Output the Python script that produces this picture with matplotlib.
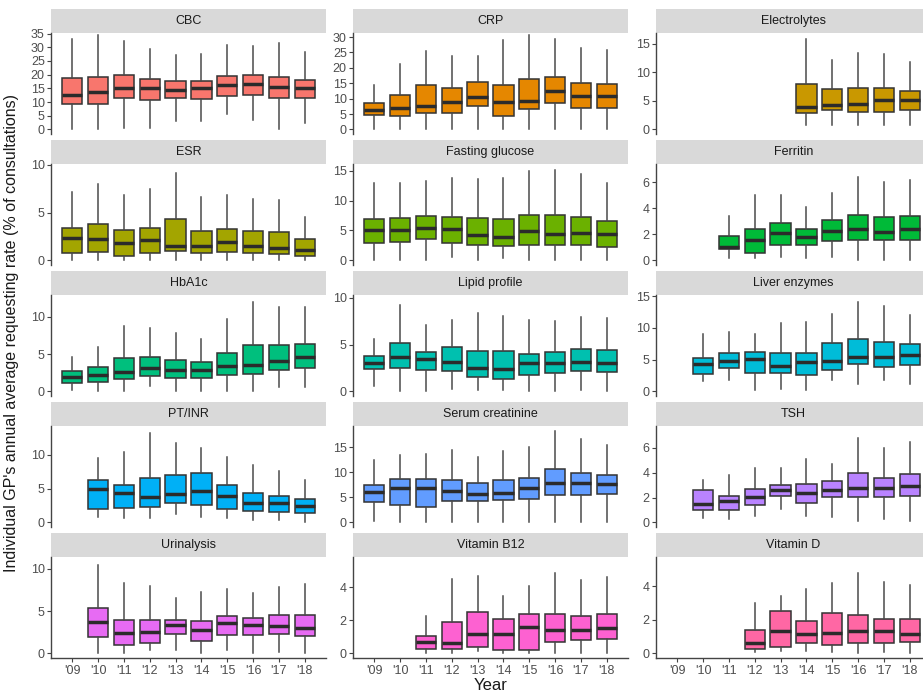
import matplotlib
matplotlib.use("Agg")
import matplotlib.pyplot as plt
from matplotlib.patches import Rectangle
from matplotlib.ticker import MultipleLocator

plt.rcParams['font.family'] = ['Liberation Sans Narrow', 'Liberation Sans', 'DejaVu Sans']

years = ["'09", "'10", "'11", "'12", "'13", "'14", "'15", "'16", "'17", "'18"]
tests = ["CBC", "CRP", "Electrolytes", "ESR", "Fasting glucose", "Ferritin",
         "HbA1c", "Lipid profile", "Liver enzymes", "PT/INR", "Serum creatinine", "TSH",
         "Urinalysis", "Vitamin B12", "Vitamin D"]
# index of the first year with data for each test
first_year = [0, 0, 5, 0, 0, 2, 0, 0, 1, 1, 0, 1, 1, 2, 3]
# top of each y scale (hidden outliers still stretch the scale)
y_top = [35.2, 31.3, 16.9, 10.1, 16.1, 7.4, 12.9, 10.3, 15.2, 14.3, 19.2, 7.75, 11.4, 5.85, 5.75]
# ggplot default hue palette for 15 groups
colors = ["#F8766D", "#E58700", "#C99800", "#A3A500", "#6BB100", "#00BA38", "#00BF7D",
          "#00C0AF", "#00BCD8", "#00B0F6", "#619CFF", "#B983FF", "#E76BF3", "#FD61D1", "#FF67A4"]
tick_step = [5, 5, 5, 5, 5, 2, 5, 5, 5, 5, 5, 2, 5, 2, 2]

# per year: lower whisker, q1, median, q3, upper whisker
cbc = [[0.2, 9.1, 12.4, 18.7, 33.0], [0.0, 9.1, 13.7, 19.2, 34.4], [0.5, 11.4, 15.0, 19.7, 32.1],
       [0.5, 10.8, 15.0, 18.4, 29.3], [3.2, 11.4, 14.4, 17.7, 27.0], [2.9, 11.1, 15.0, 17.7, 27.5],
       [5.5, 12.3, 16.3, 19.6, 30.9], [3.5, 12.6, 16.5, 19.8, 30.4], [0.0, 11.4, 15.4, 19.3, 31.5],
       [2.4, 11.3, 15.0, 18.1, 28.2]]
crp = [[0.0, 4.7, 6.4, 8.7, 14.5], [0.0, 4.3, 7.1, 11.1, 21.3], [0.0, 5.4, 7.7, 14.5, 25.5],
       [0.0, 5.4, 8.9, 13.6, 23.9], [0.0, 7.5, 10.5, 15.3, 23.9], [0.0, 4.5, 8.9, 14.5, 29.0],
       [0.0, 6.5, 9.2, 16.3, 30.5], [0.0, 8.6, 12.5, 17.0, 29.4], [0.0, 7.1, 10.7, 15.0, 26.5],
       [0.0, 7.1, 10.7, 14.8, 25.7]]
electrolytes = [[0.8, 2.8, 4.0, 7.9, 15.8], [0.8, 3.4, 4.3, 7.0, 12.1], [0.8, 3.1, 4.4, 7.2, 13.4],
                [0.8, 3.1, 5.1, 7.2, 13.3], [0.7, 3.4, 5.1, 6.8, 11.9]]
esr = [[0.0, 0.75, 2.4, 3.35, 7.2], [0.0, 0.85, 2.2, 3.8, 8.0], [0.0, 0.5, 1.8, 3.15, 6.9],
       [0.0, 0.75, 2.1, 3.4, 7.5], [0.0, 1.0, 1.55, 4.35, 9.2], [0.0, 0.8, 1.55, 3.1, 6.6],
       [0.0, 0.85, 1.9, 3.25, 6.9], [0.0, 0.8, 1.55, 3.05, 6.4], [0.0, 0.65, 1.35, 3.0, 6.3],
       [0.0, 0.5, 1.1, 2.2, 4.55]]
fasting_glucose = [[0.1, 2.95, 5.0, 6.9, 12.9], [0.1, 3.0, 5.15, 7.0, 13.0], [0.1, 3.5, 5.4, 7.4, 13.3],
                   [0.5, 2.85, 5.25, 7.2, 13.7], [0.1, 2.6, 4.3, 7.0, 13.6], [0.4, 2.4, 3.9, 6.9, 13.8],
                   [0.1, 2.6, 4.85, 7.5, 14.9], [0.1, 2.6, 4.35, 7.6, 15.1], [0.1, 2.5, 4.5, 7.2, 14.35],
                   [0.1, 2.2, 4.4, 6.6, 12.95]]
ferritin = [[0.15, 0.9, 1.05, 1.9, 3.4], [0.2, 0.6, 1.6, 2.4, 5.0], [0.25, 1.2, 2.1, 2.9, 5.0],
            [0.2, 1.2, 1.8, 2.4, 4.1], [0.3, 1.5, 2.25, 3.1, 5.2], [0.0, 1.55, 2.4, 3.5, 6.4],
            [0.0, 1.55, 2.2, 3.3, 6.0], [0.0, 1.55, 2.4, 3.4, 6.15]]
hba1c = [[0.25, 1.1, 1.95, 2.7, 4.65], [0.1, 1.3, 2.15, 3.2, 5.9], [0.1, 1.6, 2.6, 4.5, 8.75],
         [0.75, 2.0, 3.1, 4.6, 8.5], [0.0, 1.75, 2.9, 4.2, 7.8], [0.0, 1.8, 2.85, 3.9, 7.0],
         [0.0, 2.2, 3.45, 5.2, 9.7], [0.0, 2.3, 3.6, 6.15, 11.9], [0.55, 2.8, 4.1, 6.15, 11.3],
         [0.55, 3.1, 4.55, 6.35, 11.3]]
lipid_profile = [[0.55, 2.4, 3.05, 3.75, 5.65], [0.0, 2.45, 3.7, 5.2, 9.25], [0.0, 2.3, 3.45, 4.25, 7.1],
                 [0.25, 2.15, 3.15, 4.75, 7.65], [0.15, 1.55, 2.5, 4.3, 8.4], [0.15, 1.3, 2.4, 4.3, 8.1],
                 [0.0, 1.7, 3.0, 4.05, 7.65], [0.0, 2.0, 3.0, 4.2, 7.5], [0.2, 2.2, 3.15, 4.5, 7.9],
                 [0.0, 2.1, 3.05, 4.4, 7.8]]
liver_enzymes = [[1.7, 2.75, 4.35, 5.3, 9.0], [1.75, 3.75, 4.85, 6.1, 9.3], [0.2, 2.85, 5.1, 6.2, 9.0],
                 [0.35, 2.9, 4.0, 6.1, 10.8], [0.2, 2.6, 4.7, 6.0, 10.9], [1.85, 3.35, 4.85, 7.6, 12.2],
                 [1.2, 4.25, 5.5, 8.2, 14.15], [1.85, 3.85, 5.5, 7.8, 13.5], [1.1, 4.1, 5.7, 7.4, 12.1]]
pt_inr = [[0.8, 2.0, 4.95, 6.3, 9.5], [0.6, 2.15, 4.3, 5.5, 10.4], [0.6, 2.25, 3.7, 6.6, 13.3],
          [1.3, 2.85, 4.25, 7.0, 11.8], [0.8, 2.65, 4.7, 7.4, 11.05], [0.7, 2.0, 3.9, 5.5, 9.75],
          [0.4, 1.75, 2.85, 4.4, 8.5], [0.4, 1.5, 2.85, 3.95, 7.6], [0.1, 1.35, 2.4, 3.4, 6.35]]
serum_creatinine = [[0.3, 4.1, 6.15, 7.4, 12.35], [0.0, 3.55, 6.9, 8.65, 13.5], [0.0, 3.1, 6.9, 8.55, 13.7],
                    [0.0, 4.2, 6.25, 8.4, 14.5], [0.0, 4.2, 5.6, 7.75, 13.0], [0.0, 4.4, 5.95, 8.35, 14.15],
                    [0.0, 4.6, 6.9, 8.85, 15.1], [0.0, 5.4, 7.9, 10.6, 18.2], [0.0, 5.4, 7.9, 9.8, 16.55],
                    [0.0, 5.6, 7.7, 9.5, 15.4]]
tsh = [[0.35, 1.0, 1.5, 2.6, 3.4], [0.3, 1.0, 1.7, 2.15, 3.8], [0.55, 1.4, 2.05, 2.7, 4.35],
       [1.1, 2.1, 2.6, 3.0, 4.35], [0.5, 1.6, 2.35, 3.1, 5.1], [0.45, 2.05, 2.6, 3.3, 4.7],
       [0.1, 2.05, 2.8, 3.95, 6.75], [0.25, 2.05, 2.8, 3.6, 5.95], [0.1, 2.15, 2.9, 3.9, 6.45]]
urinalysis = [[0.0, 1.95, 3.75, 5.4, 10.4], [0.0, 1.0, 2.4, 4.0, 8.35], [0.4, 1.25, 2.55, 3.95, 7.95],
              [0.4, 2.3, 3.4, 4.0, 6.5], [0.0, 1.5, 2.8, 3.85, 7.3], [0.4, 2.2, 3.65, 4.4, 7.65],
              [0.0, 2.15, 3.4, 4.2, 7.2], [0.2, 2.25, 3.3, 4.55, 7.85], [0.0, 2.0, 3.05, 4.5, 8.15]]
vitamin_b12 = [[0.04, 0.29, 0.72, 1.07, 2.28], [0.04, 0.29, 0.66, 1.91, 4.49], [0.14, 0.39, 1.17, 2.54, 4.68],
               [0.0, 0.2, 1.15, 2.09, 3.51], [0.0, 0.23, 1.6, 2.4, 4.06], [0.0, 0.68, 1.4, 2.38, 4.88],
               [0.0, 0.84, 1.42, 2.3, 4.45], [0.0, 0.88, 1.52, 2.38, 4.62]]
vitamin_d = [[0.06, 0.25, 0.62, 1.37, 3.0], [0.15, 0.38, 1.33, 2.54, 3.4], [0.15, 0.6, 1.15, 1.94, 3.85],
             [0.06, 0.52, 1.21, 2.42, 4.17], [0.0, 0.63, 1.31, 2.27, 4.77], [0.1, 0.62, 1.31, 2.08, 4.25],
             [0.0, 0.67, 1.17, 2.04, 4.06]]

all_data = [cbc, crp, electrolytes, esr, fasting_glucose, ferritin, hba1c, lipid_profile,
            liver_enzymes, pt_inr, serum_creatinine, tsh, urinalysis, vitamin_b12, vitamin_d]

W, H = 923, 693
fig = plt.figure(figsize=(W / 100, H / 100), dpi=100)

col_left = [51, 353, 656]
panel_w = 275
panel_h = 101
strip_h = 24
row_pitch = 131
first_top = 33

line_col = "#444444"
text_col = "#4D4D4D"

for i, name in enumerate(tests):
    r, c = divmod(i, 3)
    top = first_top + r * row_pitch
    ax = fig.add_axes([col_left[c] / W, 1 - (top + panel_h) / H, panel_w / W, panel_h / H])

    stats = []
    for row in all_data[i]:
        stats.append(dict(whislo=row[0], q1=row[1], med=row[2], q3=row[3], whishi=row[4]))
    pos = list(range(first_year[i], first_year[i] + len(stats)))

    ax.bxp(stats, positions=pos, widths=0.78, patch_artist=True,
           showfliers=False, showcaps=False,
           boxprops=dict(facecolor=colors[i], edgecolor="#333333", linewidth=1.1),
           medianprops=dict(color="#2B2B2B", linewidth=2.5, solid_capstyle="butt"),
           whiskerprops=dict(color="#4A4A4A", linewidth=1.1))

    # ggplot-style 5% expansion, scale starts at 0
    ax.set_ylim(-y_top[i] * 0.05 / 1.05, y_top[i])
    ax.set_xlim(-0.82, 9.82)
    ax.yaxis.set_major_locator(MultipleLocator(tick_step[i]))

    for s in ["top", "right"]:
        ax.spines[s].set_visible(False)
    ax.spines["left"].set_color(line_col)
    ax.spines["left"].set_linewidth(1.0)
    ax.tick_params(axis="y", colors=line_col, labelcolor=text_col, labelsize=9, length=3, width=0.8, pad=1.5)

    ax.set_xticks(range(len(years)))
    if r == 4:
        ax.spines["bottom"].set_color(line_col)
        ax.spines["bottom"].set_linewidth(1.0)
        ax.set_xticklabels(years)
        ax.tick_params(axis="x", colors=line_col, labelcolor=text_col, labelsize=9, length=3, width=0.8, pad=2)
    else:
        ax.spines["bottom"].set_visible(False)
        ax.tick_params(axis="x", length=0, labelbottom=False)

    # facet strip
    sh = strip_h / panel_h
    ax.add_patch(Rectangle((0, 1), 1, sh, transform=ax.transAxes, facecolor="#D9D9D9",
                           edgecolor="none", clip_on=False))
    ax.text(0.5, 1 + sh / 2, name, transform=ax.transAxes, ha="center", va="center",
            fontsize=9, color="#1A1A1A")

fig.text(12 / W, 1 - 333 / H, "Individual GP's annual average requesting rate (% of consultations)",
         rotation=90, ha="center", va="center", fontsize=11.5, color="#1A1A1A",
         family=["Liberation Sans", "DejaVu Sans"])
fig.text(491 / W, 1 - 685 / H, "Year", ha="center", va="center", fontsize=12, color="#1A1A1A")

fig.savefig("out.png", dpi=100)
